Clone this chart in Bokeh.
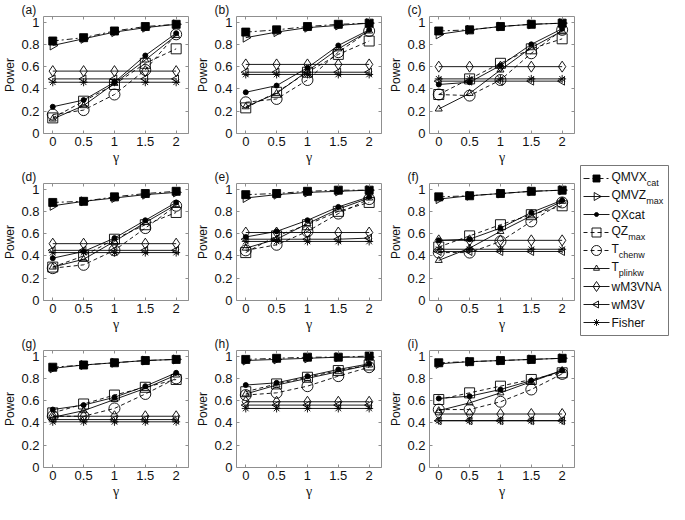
import math
from bokeh.plotting import figure
from bokeh.models import Range1d, FixedTicker, LinearAxis, Label, Spacer
from bokeh.layouts import row, column
from bokeh.embed import file_html
from bokeh.resources import INLINE

# ---------------- data ----------------
gamma = [0, 0.5, 1, 1.5, 2]
panel_labels = ["(a)", "(b)", "(c)", "(d)", "(e)", "(f)", "(g)", "(h)", "(i)"]
x_ticks = [0, 0.5, 1, 1.5, 2]
x_tick_labels = ["0", "0.5", "1", "1.5", "2"]
y_ticks = [0, 0.2, 0.4, 0.6, 0.8, 1]
y_tick_labels = ["0", "0.2", "0.4", "0.6", "0.8", "1"]
x_label = "γ"
y_label = "Power"

series_names = ["QMVXcat", "QMVZmax", "QXcat", "QZmax", "Tchenw",
                "Tplinkw", "wM3VNA", "wM3V", "Fisher"]
legend_main = ["QMVX", "QMVZ", "QXcat", "QZ", "T", "T", "wM3VNA", "wM3V", "Fisher"]
legend_sub = ["cat", "max", "", "max", "chenw", "plinkw", "", "", ""]

# one row per panel (a)..(i), values at gamma = 0, 0.5, 1, 1.5, 2
QMVXcat = [
    [0.83, 0.86, 0.92, 0.96, 0.98],
    [0.91, 0.93, 0.96, 0.98, 0.99],
    [0.92, 0.93, 0.96, 0.98, 0.99],
    [0.88, 0.89, 0.93, 0.96, 0.98],
    [0.95, 0.96, 0.98, 0.99, 0.99],
    [0.93, 0.94, 0.96, 0.98, 0.99],
    [0.90, 0.92, 0.94, 0.96, 0.97],
    [0.97, 0.98, 0.99, 0.99, 1.00],
    [0.94, 0.95, 0.96, 0.97, 0.98],
]
QMVZmax = [
    [0.79, 0.85, 0.91, 0.95, 0.98],
    [0.86, 0.91, 0.95, 0.97, 0.99],
    [0.89, 0.93, 0.96, 0.98, 0.99],
    [0.85, 0.89, 0.92, 0.95, 0.97],
    [0.92, 0.95, 0.97, 0.98, 0.99],
    [0.91, 0.94, 0.96, 0.98, 0.99],
    [0.89, 0.92, 0.94, 0.96, 0.97],
    [0.96, 0.97, 0.98, 0.99, 0.99],
    [0.93, 0.95, 0.96, 0.97, 0.98],
]
QXcat = [
    [0.24, 0.30, 0.46, 0.70, 0.90],
    [0.37, 0.43, 0.59, 0.79, 0.93],
    [0.44, 0.46, 0.61, 0.80, 0.94],
    [0.38, 0.44, 0.56, 0.72, 0.88],
    [0.57, 0.62, 0.72, 0.84, 0.93],
    [0.54, 0.55, 0.65, 0.79, 0.90],
    [0.52, 0.56, 0.63, 0.73, 0.85],
    [0.74, 0.76, 0.82, 0.88, 0.93],
    [0.62, 0.64, 0.70, 0.78, 0.87],
]
QZmax = [
    [0.14, 0.29, 0.44, 0.63, 0.76],
    [0.23, 0.37, 0.55, 0.71, 0.83],
    [0.35, 0.49, 0.63, 0.76, 0.85],
    [0.30, 0.40, 0.55, 0.68, 0.79],
    [0.43, 0.58, 0.68, 0.80, 0.88],
    [0.48, 0.58, 0.68, 0.77, 0.85],
    [0.49, 0.57, 0.65, 0.72, 0.79],
    [0.68, 0.75, 0.81, 0.87, 0.92],
    [0.61, 0.67, 0.73, 0.79, 0.85],
]
Tchenw = [
    [0.17, 0.21, 0.35, 0.57, 0.89],
    [0.28, 0.31, 0.48, 0.73, 0.92],
    [0.35, 0.34, 0.48, 0.72, 0.93],
    [0.29, 0.32, 0.45, 0.65, 0.85],
    [0.45, 0.50, 0.62, 0.78, 0.91],
    [0.43, 0.43, 0.53, 0.71, 0.88],
    [0.46, 0.46, 0.53, 0.66, 0.80],
    [0.65, 0.67, 0.73, 0.82, 0.90],
    [0.52, 0.52, 0.59, 0.70, 0.84],
]
Tplinkw = [
    [0.13, 0.25, 0.45, 0.66, 0.88],
    [0.24, 0.36, 0.56, 0.76, 0.92],
    [0.22, 0.36, 0.57, 0.77, 0.92],
    [0.30, 0.37, 0.53, 0.70, 0.86],
    [0.47, 0.55, 0.69, 0.82, 0.92],
    [0.36, 0.47, 0.62, 0.76, 0.89],
    [0.45, 0.51, 0.61, 0.71, 0.83],
    [0.66, 0.74, 0.80, 0.86, 0.92],
    [0.51, 0.58, 0.67, 0.77, 0.87],
]
wM3VNA = [
    [0.56, 0.56, 0.56, 0.56, 0.56],
    [0.62, 0.62, 0.62, 0.62, 0.62],
    [0.60, 0.60, 0.60, 0.60, 0.60],
    [0.51, 0.51, 0.51, 0.51, 0.51],
    [0.61, 0.61, 0.61, 0.61, 0.61],
    [0.54, 0.54, 0.54, 0.54, 0.54],
    [0.46, 0.46, 0.46, 0.46, 0.46],
    [0.59, 0.59, 0.59, 0.59, 0.59],
    [0.48, 0.48, 0.48, 0.48, 0.48],
]
wM3V = [
    [0.49, 0.49, 0.49, 0.49, 0.49],
    [0.55, 0.55, 0.55, 0.55, 0.55],
    [0.47, 0.47, 0.47, 0.47, 0.47],
    [0.45, 0.45, 0.45, 0.45, 0.45],
    [0.55, 0.55, 0.55, 0.55, 0.56],
    [0.44, 0.44, 0.44, 0.44, 0.44],
    [0.43, 0.43, 0.43, 0.43, 0.43],
    [0.56, 0.56, 0.56, 0.56, 0.56],
    [0.42, 0.42, 0.42, 0.42, 0.42],
]
Fisher = [
    [0.46, 0.46, 0.46, 0.46, 0.46],
    [0.53, 0.53, 0.53, 0.53, 0.53],
    [0.49, 0.49, 0.49, 0.49, 0.49],
    [0.43, 0.43, 0.43, 0.43, 0.43],
    [0.53, 0.53, 0.53, 0.53, 0.53],
    [0.46, 0.46, 0.46, 0.46, 0.46],
    [0.41, 0.41, 0.41, 0.41, 0.41],
    [0.53, 0.53, 0.53, 0.53, 0.53],
    [0.42, 0.42, 0.42, 0.42, 0.42],
]

DATA = {"QMVXcat": QMVXcat, "QMVZmax": QMVZmax, "QXcat": QXcat, "QZmax": QZmax,
        "Tchenw": Tchenw, "Tplinkw": Tplinkw, "wM3VNA": wM3VNA, "wM3V": wM3V,
        "Fisher": Fisher}

# ---------------- style ----------------
SANS = "Liberation Sans"
SERIF = "Liberation Serif"
AX_GREY = "#8f8f8f"
LW = 0.9

STYLE = {
    "QMVXcat": dict(dash="6 3 2 3", marker="square", size=8, fill="black", angle=0.0),
    "QMVZmax": dict(dash="solid", marker="triangle", size=9, fill=None, angle=-math.pi / 2),
    "QXcat": dict(dash="solid", marker="circle", size=5, fill="black", angle=0.0),
    "QZmax": dict(dash="4 3", marker="square", size=10, fill=None, angle=0.0),
    "Tchenw": dict(dash="4 3", marker="circle", size=11, fill=None, angle=0.0),
    "Tplinkw": dict(dash="solid", marker="triangle", size=7, fill=None, angle=0.0),
    "wM3VNA": dict(dash="solid", marker="diamond", size=11, fill=None, angle=0.0),
    "wM3V": dict(dash="solid", marker="triangle", size=8, fill=None, angle=math.pi / 2),
    "Fisher": dict(dash="solid", marker="asterisk", size=8, fill=None, angle=0.0),
}

PW, PH = 193, 167
X_RANGE = (-0.15, 2.2)
Y_RANGE = (0, 1.05)


def make_panel(k):
    p = figure(width=PW, height=PH, title=panel_labels[k],
               x_range=Range1d(*X_RANGE), y_range=Range1d(*Y_RANGE),
               output_backend="svg", toolbar_location=None,
               min_border_left=37, min_border_right=5,
               min_border_top=0, min_border_bottom=34,
               x_axis_label=x_label, y_axis_label=y_label)
    p.grid.visible = False
    p.outline_line_color = AX_GREY
    p.outline_line_width = 1

    p.title.text_font = SANS
    p.title.text_font_size = "12px"
    p.title.text_font_style = "normal"
    p.title.text_color = "#111111"
    p.title.align = "left"
    p.title.offset = -22
    p.title.standoff = 0

    xa = p.below[0]
    ya = p.left[0]
    xa.ticker = FixedTicker(ticks=x_ticks)
    xa.major_label_overrides = dict(zip(x_ticks, x_tick_labels))
    ya.ticker = FixedTicker(ticks=y_ticks)
    ya.major_label_overrides = dict(zip(y_ticks, y_tick_labels))
    for ax in (xa, ya):
        ax.axis_line_color = None
        ax.major_tick_in = 3
        ax.major_tick_out = 0
        ax.major_tick_line_color = AX_GREY
        ax.minor_tick_line_color = None
        ax.major_label_text_font = SANS
        ax.major_label_text_font_size = "13px"
        ax.major_label_text_color = "#111111"
        ax.axis_label_text_font_style = "normal"
        ax.axis_label_text_color = "#111111"
    xa.major_label_standoff = 3
    xa.axis_label_standoff = 1
    xa.axis_label_text_font = SERIF
    xa.axis_label_text_font_size = "14px"
    ya.major_label_standoff = 4
    ya.axis_label_standoff = 1
    ya.axis_label_text_font = SANS
    ya.axis_label_text_font_size = "12px"

    # tick marks only on the top and right edges (box style)
    for where, ticks in (("above", x_ticks), ("right", y_ticks)):
        ax = LinearAxis(ticker=FixedTicker(ticks=ticks), axis_line_color=None,
                        major_tick_in=3, major_tick_out=0,
                        major_tick_line_color=AX_GREY, minor_tick_line_color=None,
                        major_label_text_font_size="1px", major_label_text_color=None,
                        major_label_standoff=0)
        p.add_layout(ax, where)

    for name in series_names:
        st = STYLE[name]
        ys = DATA[name][k]
        p.line(gamma, ys, line_color="black", line_width=LW, line_dash=st["dash"])
        p.scatter(gamma, ys, marker=st["marker"], size=st["size"], angle=st["angle"],
                  line_color="black", line_width=LW, fill_color=st["fill"])
    return p


panels = [make_panel(k) for k in range(9)]
grid = column(row(*panels[0:3]), row(*panels[3:6]), row(*panels[6:9]))

# ---------------- legend box ----------------
LGW, LGH = 90, 172
FW, FH = LGW - 2, LGH - 2
lf = figure(width=LGW, height=LGH, x_range=Range1d(0, FW), y_range=Range1d(0, FH),
            output_backend="svg", toolbar_location=None,
            x_axis_location=None, y_axis_location=None,
            min_border=1)
lf.grid.visible = False
lf.outline_line_color = "#777777"
lf.outline_line_width = 1

ROW_TOP, ROW_STEP = 13, 18.0
LINE_X0, LINE_X1, TEXT_X = 3, 29, 31
for i, name in enumerate(series_names):
    st = STYLE[name]
    yc = FH - ROW_TOP - i * ROW_STEP
    lf.line([LINE_X0, LINE_X1], [yc, yc], line_color="black", line_width=LW, line_dash=st["dash"])
    lf.scatter([(LINE_X0 + LINE_X1) / 2], [yc], marker=st["marker"], size=st["size"] - 1,
               angle=st["angle"], line_color="black", line_width=LW, fill_color=st["fill"])
    sub = legend_sub[i]
    lf.add_layout(Label(x=TEXT_X, y=yc + (1.5 if sub else 0), text=legend_main[i],
                        text_font=SANS, text_font_size="12px", text_baseline="middle",
                        text_color="#111111"))
    if sub:
        main_w = {"QMVX": 35.3, "QMVZ": 34.7, "QZ": 16.7, "T": 7.3}[legend_main[i]]
        lf.add_layout(Label(x=TEXT_X + main_w, y=yc - 4, text=sub,
                            text_font=SANS, text_font_size="9px", text_baseline="middle",
                            text_color="#111111"))

legend_col = column(Spacer(width=LGW, height=164), lf)
layout = row(grid, legend_col)

open("out.html", "w").write(file_html(layout, INLINE))
